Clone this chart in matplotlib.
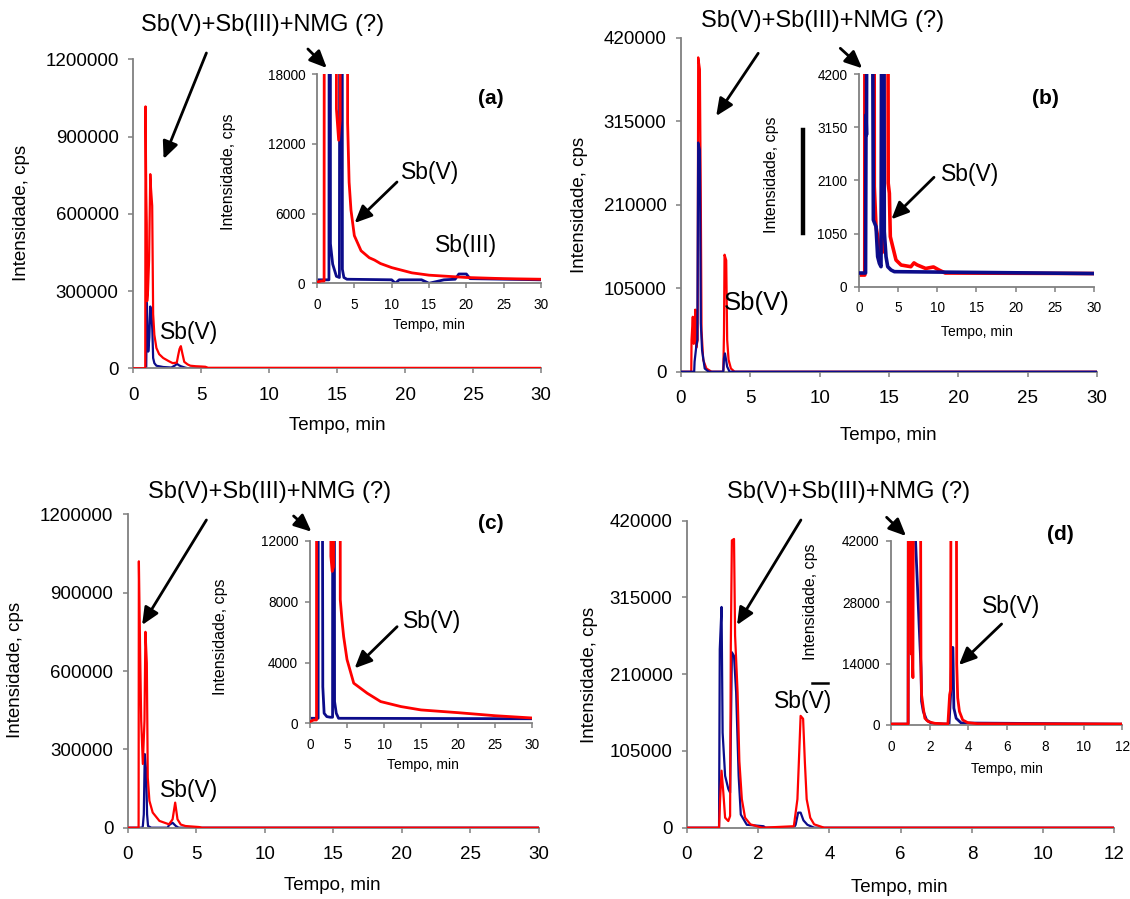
import matplotlib
matplotlib.use('Agg')
import matplotlib.pyplot as plt
from matplotlib.patches import FancyArrowPatch
from matplotlib.lines import Line2D

plt.rcParams['font.family'] = ['Liberation Sans', 'DejaVu Sans']

# ---------------- data (time in min, intensity in cps) ----------------
# panel (a), main
a_red_t = [0, 0.88, 0.9, 0.95, 0.99, 1.02, 1.08, 1.16, 1.25, 1.3, 1.39, 1.46, 1.55, 1.7, 1.9, 2.2,
           2.6, 2.9, 3.2, 3.3, 3.4, 3.5, 3.6, 3.75, 4.0, 4.2, 4.6, 5.0, 5.3, 5.5, 30]
a_red_y = [0, 0, 1017000, 680000, 560000, 261000, 300000, 420000, 754000, 700000, 631000, 210000,
           130000, 79000, 55000, 40000, 28000, 20000, 22000, 50000, 75000, 86000, 60000, 25000,
           15000, 10000, 8000, 7000, 6000, 2000, 1500]
a_blue_t = [0, 0.95, 1.0, 1.05, 1.1, 1.18, 1.25, 1.34, 1.4, 1.46, 1.55, 1.7, 2.2, 2.8, 3.1, 3.2,
            3.35, 3.5, 3.8, 4.0, 30]
a_blue_y = [0, 0, 254000, 150000, 65000, 120000, 240000, 210000, 150000, 40000, 20000, 10000,
            5000, 3000, 12000, 18000, 12000, 8000, 3000, 400, 300]
# panel (a), inset
ai_red_t = [0, 0.6, 0.95, 1.0, 2.55, 2.6, 2.9, 3.1, 3.2, 4.05, 4.1, 4.3, 4.55, 5.0, 5.9, 7.0, 7.7,
            8.5, 10, 12.7, 15, 20, 25, 30]
ai_red_y = [100, 200, 200, 60000, 60000, 15000, 12300, 14000, 60000, 60000, 13800, 8700, 6300,
            4100, 2800, 2200, 2000, 1700, 1350, 900, 700, 500, 400, 350]
ai_blue_t = [0, 1.6, 1.67, 1.78, 1.8, 2.1, 2.6, 3.0, 3.1, 3.2, 3.25, 3.35, 3.4, 3.6, 4.0, 10,
             10.5, 11, 14, 15, 17, 18.5, 19, 20, 20.5, 30]
ai_blue_y = [300, 300, 60000, 60000, 3400, 1650, 600, 500, 60000, 10000, 60000, 60000, 1200, 500,
             350, 300, 0, 300, 300, 0, 300, 350, 800, 800, 400, 300]

# panel (b), main
b_red_t = [0, 0.74, 0.76, 0.85, 0.92, 0.98, 1.03, 1.1, 1.2, 1.24, 1.36, 1.43, 1.48, 1.6, 1.83,
           2.2, 3.05, 3.1, 3.14, 3.26, 3.33, 3.43, 3.6, 3.86, 30]
b_red_y = [0, 0, 40000, 69000, 35000, 48000, 78000, 30000, 40000, 395000, 380000, 208000, 52000,
           15000, 4000, 0, 0, 48000, 147000, 140000, 40000, 15000, 4000, 0, 0]
b_blue_t = [0, 0.95, 0.98, 1.1, 1.18, 1.24, 1.36, 1.43, 1.52, 1.71, 2.0, 3.05, 3.1, 3.17, 3.33,
            3.5, 30]
b_blue_y = [0, 0, 12600, 31500, 40000, 288000, 279000, 61000, 27000, 4000, 0, 0, 17000, 23000,
            6300, 0, 0]
# panel (b), inset
bi_red_t = [0, 0.7, 0.73, 1.88, 1.92, 2.14, 2.35, 2.57, 2.78, 3.1, 3.2, 3.64, 3.7, 3.85, 3.97,
            4.28, 4.7, 5.35, 6.6, 7.0, 7.4, 8.5, 9.5, 10.2, 11, 30]
bi_red_y = [230, 230, 9000, 9000, 1977, 1186, 990, 725, 660, 700, 9000, 9000, 2043, 1845, 988,
            790, 527, 428, 395, 470, 430, 360, 390, 330, 270, 260]
bi_blue_t = [0, 0.8, 0.86, 0.92, 0.99, 1.63, 1.8, 2.14, 2.35, 2.57, 2.78, 2.91, 3.12, 3.2, 3.42,
             3.64, 4.06, 4.49, 30]
bi_blue_y = [270, 270, 3390, 3000, 9000, 9000, 1318, 1186, 593, 461, 395, 9000, 9000, 1087, 593,
             395, 330, 297, 260]

# panel (c), main
c_red_t = [0, 0.78, 0.8, 0.89, 0.97, 1.09, 1.21, 1.28, 1.38, 1.45, 1.57, 1.81, 2.3, 3.0, 3.26,
           3.45, 3.62, 3.86, 4.2, 5.2, 5.4, 30]
c_red_y = [0, 0, 1020000, 680000, 410000, 244000, 410000, 750000, 630000, 192000, 103000, 58000,
           26000, 13000, 32000, 96000, 32000, 12000, 6400, 2500, 0, 0]
c_blue_t = [0, 1.05, 1.09, 1.16, 1.23, 1.33, 1.4, 1.47, 1.7, 2.9, 3.0, 3.26, 3.5, 3.7, 30]
c_blue_y = [0, 0, 6400, 51000, 282000, 218000, 51000, 6400, 0, 0, 10000, 19000, 6400, 0, 0]
# panel (c), inset
ci_red_t = [0, 0.5, 0.88, 0.91, 2.8, 2.82, 3.0, 3.18, 3.3, 4.07, 4.09, 4.32, 4.55, 5.0, 5.91,
            7.73, 9.55, 12.3, 15, 20, 25, 30]
ci_red_y = [110, 220, 220, 40000, 40000, 11000, 10000, 10300, 40000, 40000, 8140, 6800, 5700,
            4200, 2640, 1980, 1430, 1100, 880, 700, 500, 350]
ci_blue_t = [0, 1.1, 1.14, 1.59, 1.73, 1.91, 2.27, 2.73, 3.05, 3.09, 3.18, 3.25, 3.32, 3.55,
             3.86, 30]
ci_blue_y = [330, 330, 40000, 40000, 2400, 660, 440, 400, 400, 40000, 10300, 40000, 1430, 660,
             330, 300]

# panel (d), main
d_red_t = [0, 0.9, 0.93, 0.97, 1.02, 1.07, 1.16, 1.21, 1.23, 1.26, 1.32, 1.35, 1.42, 1.47, 1.54,
           1.63, 1.78, 2.11, 3.0, 3.1, 3.14, 3.19, 3.26, 3.31, 3.36, 3.46, 3.57, 3.85, 12]
d_red_y = [0, 0, 39000, 78000, 48000, 13700, 9100, 16000, 249000, 393000, 395000, 263000, 185000,
           91000, 39000, 13700, 4600, 0, 2000, 39000, 89000, 153000, 149000, 89000, 39000, 13700,
           4600, 0, 0]
d_blue_t = [0, 0.9, 0.92, 0.97, 1.0, 1.07, 1.16, 1.21, 1.26, 1.32, 1.38, 1.45, 1.51, 1.68, 2.15,
            2.2, 3.0, 3.05, 3.12, 3.19, 3.27, 3.38, 3.57, 12]
d_blue_y = [0, 0, 244000, 302000, 130000, 71000, 53000, 48000, 240000, 235000, 185000, 71000,
            18000, 4000, 2000, 0, 0, 4000, 20600, 20600, 10000, 4000, 0, 0]
# panel (d), inset
di_red_t = [0, 0.87, 0.89, 0.99, 1.03, 1.08, 1.12, 1.16, 1.5, 1.54, 1.57, 1.66, 1.74, 1.92, 2.26,
            2.94, 3.03, 3.08, 3.11, 3.37, 3.4, 3.45, 3.54, 3.71, 3.97, 4.48, 12]
di_red_y = [230, 230, 80000, 80000, 16200, 16200, 10800, 80000, 80000, 13100, 6900, 3850, 1540,
            770, 385, 230, 6900, 8000, 80000, 80000, 13900, 6200, 3100, 1150, 540, 300, 230]
di_blue_t = [0, 0.87, 0.89, 1.44, 1.54, 1.57, 1.66, 1.83, 2.09, 2.69, 3.0, 3.08, 3.15, 3.2, 3.25,
             3.37, 3.63, 12]
di_blue_y = [200, 200, 80000, 23100, 13100, 5400, 3100, 1150, 385, 230, 230, 6900, 17700, 17700,
             3850, 1540, 460, 200]

x_ticks_30 = [0, 5, 10, 15, 20, 25, 30]
x_ticks_12 = [0, 2, 4, 6, 8, 10, 12]
y_ticks_1200k = [0, 300000, 600000, 900000, 1200000]
y_ticks_420k = [0, 105000, 210000, 315000, 420000]
y_ticks_18k = [0, 6000, 12000, 18000]
y_ticks_4200 = [0, 1050, 2100, 3150, 4200]
y_ticks_12k = [0, 4000, 8000, 12000]
y_ticks_42k = [0, 14000, 28000, 42000]

title_txt = 'Sb(V)+Sb(III)+NMG (?)'
ylab = 'Intensidade, cps'
xlab = 'Tempo, min'

# ---------------- drawing ----------------
W, H = 1130, 899
RED = '#ff0000'
BLUE = '#0c0c8a'
GRAY = '#808080'

fig = plt.figure(figsize=(W / 100, H / 100), dpi=100)


def fx(x):
    return x / W


def fy(y):
    return 1 - y / H


def add_axes(left, right, top, bottom):
    """axes from pixel edges (origin top-left)"""
    return fig.add_axes([fx(left), fy(bottom), fx(right) - fx(left), fy(top) - fy(bottom)])


def style(ax, xmax, xticks, yticks, size, xpad, ypad, lw=1.3):
    ax.set_xlim(0, xmax)
    ax.set_ylim(0, yticks[-1])
    ax.patch.set_alpha(0)
    for s in ['top', 'right']:
        ax.spines[s].set_visible(False)
    for s in ['left', 'bottom']:
        ax.spines[s].set_color(GRAY)
        ax.spines[s].set_linewidth(lw)
    ax.set_xticks(xticks)
    ax.set_xticklabels([str(v) for v in xticks])
    ax.set_yticks(yticks)
    ax.set_yticklabels([str(v) for v in yticks])
    ax.tick_params(color=GRAY, length=3.5, width=1.1, labelsize=size, direction='out')
    ax.tick_params(axis='x', pad=xpad)
    ax.tick_params(axis='y', pad=ypad)


def arrow(x0, y0, x1, y1):
    fig.add_artist(FancyArrowPatch((fx(x0), fy(y0)), (fx(x1), fy(y1)), transform=fig.transFigure,
                                   arrowstyle='-|>,head_length=0.8,head_width=0.36',
                                   mutation_scale=13, lw=2, color='k', shrinkA=0, shrinkB=0))


def text(x, y, s, size, **kw):
    fig.text(fx(x), fy(y), s, fontsize=size, ha='center', va='center', **kw)


def traces(ax, rt, ry, bt, by, blue_top=False, lw=1.6):
    zr, zb = (2, 3) if blue_top else (3, 2)
    ax.plot(rt, ry, color=RED, lw=lw, zorder=zr)
    ax.plot(bt, by, color=BLUE, lw=lw, zorder=zb)


# (a)
ax = add_axes(133.3, 541, 59.3, 368.3)
style(ax, 30, x_ticks_30, y_ticks_1200k, 13.5, 10, 7)
traces(ax, a_red_t, a_red_y, a_blue_t, a_blue_y)
ins = add_axes(317, 541, 74, 283.3)
style(ins, 30, x_ticks_30, y_ticks_18k, 9.8, 7, 5)
traces(ins, ai_red_t, ai_red_y, ai_blue_t, ai_blue_y, lw=2)

# (b)
ax = add_axes(681, 1097, 37.5, 371.7)
style(ax, 30, x_ticks_30, y_ticks_420k, 13.5, 10, 7)
traces(ax, b_red_t, b_red_y, b_blue_t, b_blue_y, blue_top=True)
ins = add_axes(859.3, 1093.6, 74, 286.7)
style(ins, 30, x_ticks_30, y_ticks_4200, 9.8, 7, 5)
traces(ins, bi_red_t, bi_red_y, bi_blue_t, bi_blue_y, blue_top=True, lw=2.6)

# (c)
ax = add_axes(127.9, 539, 514.3, 827.7)
style(ax, 30, x_ticks_30, y_ticks_1200k, 13.5, 10, 7)
traces(ax, c_red_t, c_red_y, c_blue_t, c_blue_y)
ins = add_axes(310, 532, 541, 723.3)
style(ins, 30, x_ticks_30, y_ticks_12k, 9.8, 7, 5)
traces(ins, ci_red_t, ci_red_y, ci_blue_t, ci_blue_y, lw=2)

# (d)
ax = add_axes(687, 1114.4, 520.7, 827.7)
style(ax, 12, x_ticks_12, y_ticks_420k, 13.5, 10, 7)
traces(ax, d_red_t, d_red_y, d_blue_t, d_blue_y)
ins = add_axes(891.4, 1122, 541, 725)
style(ins, 12, x_ticks_12, y_ticks_42k, 9.8, 7, 5)
traces(ins, di_red_t, di_red_y, di_blue_t, di_blue_y, lw=2)

# axis labels
for x, y in [(21.4, 213), (580, 205), (16, 670), (589, 675)]:
    text(x, y, ylab, 13.5, rotation=90)
for x, y in [(228.6, 172), (771.7, 175), (221, 636.7), (810, 601.7)]:
    text(x, y, ylab, 11.5, rotation=90)
for x, y in [(337.5, 426), (888.5, 436), (332, 885), (899.4, 888)]:
    text(x, y, xlab, 13.5)
for x, y in [(428.6, 325), (977, 332.3), (422.5, 765), (1007, 769.3)]:
    text(x, y, xlab, 10)

# peak labels
for x, y in [(263, 25), (822.8, 20.7), (269.6, 491.7), (849, 491.7)]:
    text(x, y, title_txt, 17)
text(491, 98, '(a)', 15, fontweight='bold')
text(1045.4, 98.3, '(b)', 15, fontweight='bold')
text(491, 523.3, '(c)', 15, fontweight='bold')
text(1060, 535, '(d)', 15, fontweight='bold')
text(189, 332, 'Sb(V)', 16.5)
text(757, 303.3, 'Sb(V)', 18.5)
text(189, 791, 'Sb(V)', 16.5)
text(802.7, 701.7, 'Sb(V)', 16.5)
text(430, 173, 'Sb(V)', 16.5)
text(466, 245, 'Sb(III)', 16.5)
text(969.9, 174, 'Sb(V)', 16.5)
text(432, 621.7, 'Sb(V)', 16.5)
text(1010.7, 606.7, 'Sb(V)', 16.5)

# arrows
arrow(206.4, 53, 163.6, 159)
arrow(307.9, 49, 326.8, 68)
arrow(397, 182, 354.6, 223)
arrow(758.2, 53.3, 716.2, 116)
arrow(840.3, 48.3, 862.2, 68.3)
arrow(934, 177.3, 891.4, 219.3)
arrow(206.4, 520, 142.1, 625)
arrow(293.6, 516, 311.4, 531.7)
arrow(397.1, 626.7, 354.6, 668.3)
arrow(800.9, 520, 737, 625)
arrow(886.6, 517.3, 906, 536)
arrow(1001.6, 624, 958.9, 665)

# stray marks present in the original figure
fig.add_artist(Line2D([fx(802.7), fx(802.7)], [fy(130), fy(232.7)], color='k', lw=3.2))
fig.add_artist(Line2D([fx(811.8), fx(828.2)], [fy(683.3), fy(683.3)], color='k', lw=1.8))

fig.savefig('out.png', dpi=100)
